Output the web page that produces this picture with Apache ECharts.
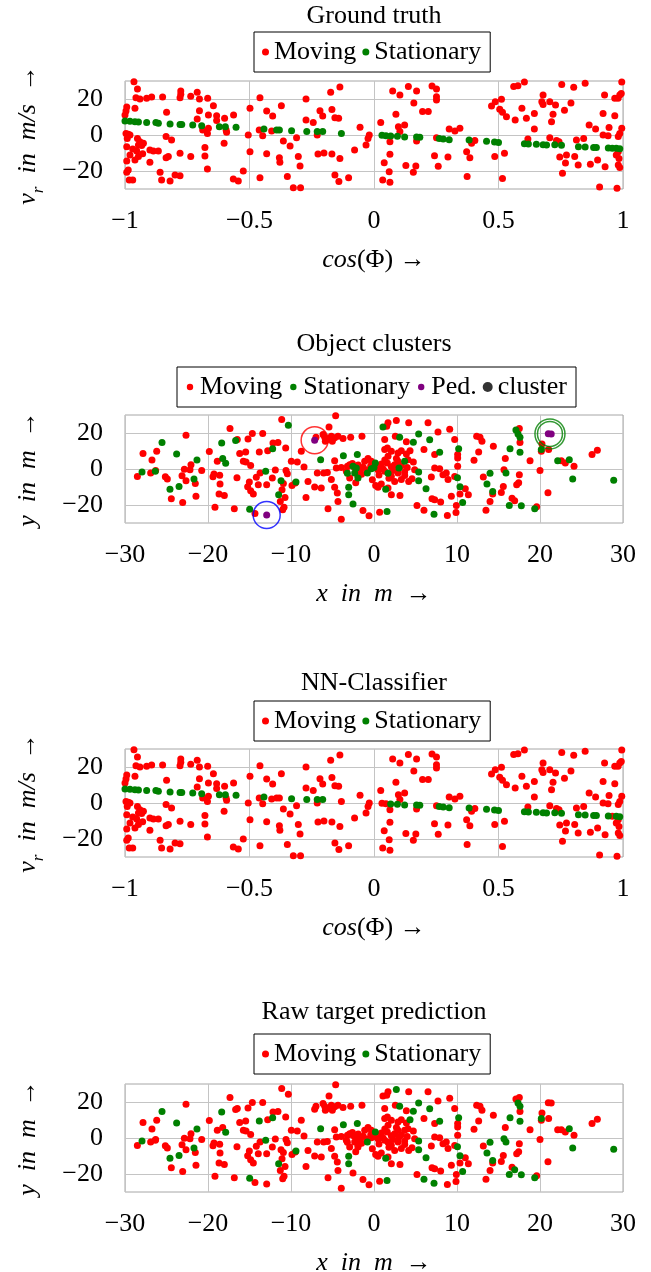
<!DOCTYPE html>
<html>
<head>
<meta charset="utf-8">
<title>Radar targets</title>
<script src="https://cdn.jsdelivr.net/npm/echarts@6.0.0/dist/echarts.min.js"></script>
<style>
  html, body { margin: 0; padding: 0; background: #fff; }
  #chart { width: 651px; height: 1272px; }
</style>
</head>
<body>
<div id="chart"></div>
<script>
// ---- data: plots 1 and 3, cos(phi) vs radial velocity ----
var cosTicks = [-1, -0.5, 0, 0.5, 1];
var meterTicks = [-30, -20, -10, 0, 10, 20, 30];
var yTicks = [-20, 0, 20];

var gtMoving = [
  [-0.964,29.6],[-0.950,25.6],[-0.956,20.7],[-0.940,20.0],[-0.913,20.4],[-0.893,21.1],[-0.849,21.1],[-0.776,24.4],
  [-0.776,22.6],[-0.779,20.7],[-0.736,21.5],[-0.710,23.7],[-0.701,20.0],[-0.668,20.4],[-0.645,16.3],[-0.701,13.5],
  [-0.665,11.1],[-0.632,10.7],[-0.632,8.1],[-0.600,9.3],[-0.564,11.1],[-0.833,12.6],[-0.710,8.9],[-0.993,15.6],
  [-0.996,13.3],[-1.0,11.1],[-0.960,14.8],[-0.996,0.9],[-0.987,0.4],[-0.980,0],[-0.991,-1.9],[-0.950,-1.9],
  [-0.940,-3.7],[-0.926,-4.6],[-0.946,-5.6],[-0.933,-5.9],[-0.993,-6.5],[-0.969,-7.8],[-0.953,-8.9],[-0.929,-10.4],
  [-0.980,-11.1],[-0.993,-14.4],[-0.960,-13.9],[-0.946,-12.0],[-0.900,-8.3],[-0.886,-8.9],[-0.866,-8.9],[-0.900,-15.2],
  [-0.987,-19.4],[-0.993,-20.7],[-0.983,-25.0],[-0.969,-25.0],[-0.859,-20.7],[-0.853,-25.0],[-0.819,-25.6],[-0.799,-22.2],
  [-0.779,-22.6],[-0.835,-0.9],[-0.813,-2.8],[-0.826,-12.0],[-0.835,-12.6],[-0.779,-10.2],[-0.736,-12.0],[-0.679,-7.0],
  [-0.679,-11.7],[-0.669,-18.9],[-0.688,2.8],[-0.669,0.9],[-0.665,3.7],[-0.602,-4.6],[-0.592,1.5],[-0.594,2.8],
  [-0.565,-24.4],[-0.545,-25.6],[-0.525,-20.0],[-0.505,0],[-0.498,14.8],[-0.458,20.7],[-0.461,2.8],[-0.447,-0.4],
  [-0.431,13.3],[-0.407,10.6],[-0.372,16.3],[-0.411,2.2],[-0.498,-9.3],[-0.431,-10.4],[-0.380,-12.6],[-0.378,-15.2],
  [-0.364,-3.3],[-0.337,-6.1],[-0.311,-1.5],[-0.304,-11.9],[-0.297,-17.2],[-0.348,-23.1],[-0.324,-29.3],[-0.295,-29.3],
  [-0.273,20.0],[-0.273,8.3],[-0.244,6.9],[-0.217,13.5],[-0.206,10.6],[-0.174,23.7],[-0.137,26.7],[-0.169,14.1],
  [-0.157,9.6],[-0.142,9.3],[-0.228,0],[-0.225,-10.6],[-0.201,-10.0],[-0.169,-10.6],[-0.137,-13.0],[-0.157,-22.2],
  [-0.141,-25.9],[-0.102,-23.7],[-0.078,-8.3],[-0.056,4.3],[-0.032,-5.6],[-0.024,-1.9],[-0.019,0],[-0.458,-23.7],
  [0.075,24.4],[0.104,22.2],[0.138,26.9],[0.171,24.4],[0.233,27.2],[0.251,25.6],[0.160,17.8],[0.195,13.0],
  [0.218,13.0],[0.251,21.3],[0.251,19.4],[0.088,11.5],[0.027,7.0],[0.098,4.6],[0.104,1.9],[0.123,5.6],
  [0.302,3.3],[0.325,2.2],[0.345,3.7],[0.251,-1.5],[0.064,-3.7],[0.171,-3.3],[0.064,-10.7],[0.041,-15.4],
  [0.061,-20.4],[0.035,-25.0],[0.064,-26.3],[0.128,-17.0],[0.168,-17.2],[0.158,-20.7],[0.243,-11.5],[0.258,-17.4],
  [0.297,-12.2],[0.372,-9.3],[0.385,-12.6],[0.392,-4.6],[0.405,-3.1],[0.374,-23.1],[0.485,-11.9],[0.516,-24.1],
  [0.524,-10.2],[0.472,16.1],[0.487,18.5],[0.512,19.8],[0.505,14.3],[0.516,12.6],[0.532,10.2],[0.567,8.3],
  [0.561,26.9],[0.578,27.4],[0.604,29.4],[0.594,14.8],[0.612,9.3],[0.644,12.0],[0.644,3.3],[0.679,22.2],
  [0.674,18.5],[0.679,17.0],[0.706,18.5],[0.729,16.7],[0.765,13.7],[0.791,17.8],[0.754,28.1],[0.802,26.5],
  [0.848,28.7],[0.719,11.5],[0.713,7.4],[0.618,-2.2],[0.706,-1.5],[0.733,-3.0],[0.743,-3.7],[0.813,-2.8],
  [0.842,-1.9],[0.864,5.6],[0.890,3.3],[0.944,4.1],[0.920,0],[0.940,-0.4],[0.967,10.7],[0.995,29.5],
  [0.980,20.4],[0.967,20.4],[0.926,22.2],[0.920,12.0],[0.987,22.2],[0.993,23.1],[0.746,-12.2],[0.773,-11.1],
  [0.769,-15.6],[0.757,-21.3],[0.806,-12.0],[0.820,-16.7],[0.869,-16.3],[0.898,-13.9],[0.906,-28.9],[0.928,-17.6],
  [0.976,-29.6],[0.981,-9.3],[0.981,-16.7],[0.987,-18.1],[0.984,-13.0],[0.973,-11.1],[0.995,3.7],[0.987,0.9],
  [0.981,-0.9]
];
// stationary in ground truth, also stationary for the NN
var gtStationaryKept = [
  [-1.0,7.8],[-0.980,7.6],[-0.960,7.4],[-0.946,7.2],[-0.913,7.0],[-0.876,6.9],[-0.866,6.5],[-0.819,6.1],
  [-0.779,5.9],[-0.772,5.9],[-0.728,5.6],[-0.692,5.2],[-0.621,4.6],[-0.597,4.6],[-0.554,4.3],[-0.442,3.3],
  [-0.331,2.4],[-0.270,2.0],[-0.228,1.9],[-0.206,1.9],[0.067,-0.6],[0.094,-0.7],[0.123,-1.1],[0.171,-1.1],
  [0.184,-1.3],[0.262,-2.0],[0.278,-2.2],[0.302,-2.6],[0.382,-2.8],[0.452,-3.5],[0.484,-3.9],[0.500,-4.1],
  [0.604,-4.8],[0.620,-5.0],[0.652,-5.2],[0.679,-5.4],[0.693,-5.6],[0.726,-5.4],[0.753,-5.7],[0.821,-6.5],
  [0.848,-6.7],[0.882,-6.9],[0.893,-7.0],[0.941,-7.2],[0.973,-7.4],[0.987,-7.6]
];
// stationary in ground truth, called moving by the NN
var gtStationaryNnMoving = [
  [-0.391,2.8],[-0.380,2.8],[-0.131,0.9],[0.032,-0.2],[0.048,-0.4],[0.957,-7.4]
];

// ---- data: plots 2 and 4, x/y positions in m ----
// moving in both views
var posMovingBoth = [
  [-11.12,27.5],[-17.35,22.5],[-16.47,16.4],[-15.18,16.7],[-14.66,19.7],[-13.41,19.7],[-22.65,18.8],[-12.17,14.5],
  [-11.57,14.7],[-10.64,11.7],[-19.84,9.7],[-18.88,4.3],[-16.18,8.6],[-15.46,9.5],[-15.74,4.3],[-15.42,3.9],
  [-14.86,2.0],[-12.81,10.2],[-27.83,8.6],[-26.18,9.9],[-26.75,5.0],[-22.05,2.4],[-22.85,-0.2],[-22.17,-0.4],
  [-20.76,-0.9],[-23.13,-3.7],[-22.65,-6.5],[-21.53,-8.0],[-25.14,-4.3],[-24.90,-5.6],[-26.91,-2.2],[-26.31,-0.9],
  [-28.51,-4.1],[-21.45,-15.1],[-24.42,-16.5],[-23.05,-18.6],[-19.28,-2.8],[-19.40,-4.3],[-18.59,-3.5],[-18.55,-8.4],
  [-18.67,-13.9],[-18.03,-14.7],[-19.16,-21.2],[-16.83,-22.1],[-14.34,-24.7],[-16.51,-4.8],[-11.89,-0.6],[-10.60,-0.9],
  [-10.44,-2.6],[-14.18,-4.6],[-13.73,-2.2],[-12.25,-5.0],[-15.02,-7.2],[-15.22,-9.9],[-14.86,-12.1],[-14.54,-13.9],
  [-13.94,-8.7],[-12.93,-8.7],[-10.92,-8.0],[-11.08,-11.5],[-10.72,-15.8],[-11.29,-18.0],[-10.84,-21.2],[-11.00,-22.7],
  [-4.62,29.6],[-5.42,23.4],[-6.14,19.1],[-5.94,17.7],[-5.62,16.4],[-5.14,18.2],[-4.74,17.3],[-4.34,18.2],
  [-3.73,16.9],[-2.81,17.7],[-1.45,18.2],[-5.02,15.4],[-5.86,15.4],[-6.99,17.7],[-8.76,9.9],[-8.43,1.1],
  [-9.24,3.9],[-9.48,-7.8],[-7.95,-6.9],[-7.15,-10.0],[-6.35,-10.6],[-6.83,-2.2],[-6.06,-2.2],[-5.62,-1.9],
  [-5.14,-5.9],[-4.74,-10.2],[-4.42,-13.4],[-4.34,-18.0],[-5.54,-22.1],[-3.94,-27.9],[-1.33,-23.0],[-0.60,-26.0],
  [0.68,-24.0],[-8.19,-15.8],[-4.74,4.6],[-4.54,0.6],[-3.94,0.9],[-2.93,2.4],[-2.33,0.9],[-3.33,-1.3],
  [-2.93,-5.0],[-1.93,-4.1],[-1.73,-1.3],[-1.12,4.3],[-0.72,5.8],[-0.32,4.3],[0.48,-0.4],[1.08,0.2],
  [1.29,-1.3],[2.09,1.3],[2.49,2.4],[2.89,4.3],[1.69,7.1],[1.29,10.8],[1.61,11.7],[2.09,9.9],
  [2.89,8.9],[3.29,10.2],[3.90,8.4],[4.10,5.2],[4.74,3.9],[4.90,-0.4],[3.69,-1.7],[2.89,-2.2],
  [2.09,-4.1],[2.49,-6.9],[3.29,-5.9],[4.18,-6.9],[4.58,-5.4],[0.20,-9.1],[0.48,-10.2],[0.88,-8.4],
  [1.69,-10.6],[2.09,-14.3],[3.13,-14.7],[1.69,25.7],[1.53,23.8],[4.18,25.7],[1.29,16.4],[2.57,18.2],
  [3.90,15.1],[6.51,25.7],[7.71,20.6],[9.12,22.1],[9.72,16.4],[7.31,8.0],[6.02,10.8],[7.31,0.6],
  [7.91,0.2],[8.31,-3.2],[8.71,-2.2],[8.92,-5.9],[9.72,-4.1],[6.91,-4.5],[6.99,-16.5],[7.31,-17.1],
  [8.03,-18.4],[9.32,-15.2],[9.92,-20.3],[8.84,-25.8],[5.18,-20.3],[-9.88,-9.1],[-9.96,4.3],
  [-3.2,1.5],[-2.6,3.0],[-1.9,2.2],[-1.3,1.0],[-0.9,-0.5],[-0.4,1.6],[0.3,1.9],[0.9,2.8],
  [1.6,3.4],[2.3,-0.8],[3.3,1.8],[4.0,0.9],[-1.5,-2.9],[0.6,-3.3],[1.8,-5.2],[3.7,-3.6],
  [-0.2,-6.0],[2.7,5.8],[-2.2,-7.6],[1.3,5.0],
  [10.08,8.0],[10.08,6.1],[10.08,1.5],[12.37,18.2],[12.77,17.7],[13.01,15.4],[14.38,12.6],[12.61,9.5],
  [12.05,4.8],[15.82,5.8],[17.51,22.5],[17.59,14.7],[18.80,4.6],[20.0,-0.9],[20.24,13.9],[20.16,9.9],
  [21.04,10.8],[22.57,4.6],[23.05,3.3],[24.1,1.5],[26.27,8.0],[26.91,10.4],[20.96,-13.2],[13.17,-4.5],
  [11.0,-11.0],[11.37,-14.3],[10.36,-13.9],[17.51,-3.2],[17.43,-7.6],[17.19,-8.7],[15.58,-9.7],[15.34,-13.0],
  [14.30,-13.9],[13.98,-18.0],[13.49,-22.9],[16.63,-16.2],[19.6,-21.0],[9.88,-24.2]
];
// stationary in both views
var posStationaryBoth = [
  [-25.54,14.7],[-23.78,8.4],[-21.33,5.0],[-21.69,-5.6],[-27.95,-1.7],[-24.58,-11.3],[-23.49,-9.7],[-18.35,14.5],
  [-17.87,3.2],[-14.98,-22.3],[-12.21,11.2],[-13.05,-1.3],[-11.49,-14.3],[3.09,17.7],[4.74,14.9],[5.38,19.5],
  [6.71,16.2],[7.91,9.3],[-6.43,5.2],[-3.69,7.4],[-2.01,8.0],[-3.05,-10.2],[-3.05,-14.3],[-0.80,-2.2],
  [0.16,3.3],[5.38,-1.7],[5.38,-6.5],[6.27,-11.0],[1.41,-11.2],[1.57,-23.6],[7.23,-25.1],[-9.40,-7.2],
  [10.06,-4.8],[10.2,11.3],[10.36,-9.9],[10.68,-18.6],[13.98,-2.4],[13.61,-8.4],[14.30,-12.5],[15.9,-2.2],
  [16.39,11.3],[17.59,9.3],[17.35,19.5],[17.59,17.7],[16.3,-20.3],[17.75,-20.4],[19.36,-22.1],[20.16,10.8],
  [23.53,5.2],[23.94,-5.6],[28.88,-6.3]
];
// stationary in the cluster view, moving in the raw prediction
var posStationaryToMoving = [
  [-18.23,5.8],[-16.67,15.8],[-11.20,-6.5],[-26.35,-1.3],[-10.32,24.3],[1.08,23.4],[-2.53,1.5],[-2.13,0.6],
  [-2.33,-2.2],[-1.93,-5.0],[-3.21,-2.4],[-2.53,-19.5],[0,0.9],[-0.32,0.2],[1.69,-2.4],[3.01,0.6],
  [3.69,4.3],[22.13,4.6],[17.1,21.7]
];
// moving in the cluster view, stationary in the raw prediction
var posMovingToStationary = [
  [-13.82,9.5],[2.69,27.0],[4.34,10.2],[6.02,-22.9],[15.66,-0.4],[16.95,-17.7]
];
// pedestrians (moving in the raw prediction)
var pedPoints = [[-7.15,16.0],[-12.93,-25.5],[21.0,19.6],[21.35,19.4]];
var clusterCenters = [[-7.15,16.0],[-12.93,-25.5],[21.2,19.5],[21.2,19.5]];

// ---- styles ----
var FONT = '"Liberation Serif", "DejaVu Serif", serif';
var GRID_COLOR = '#c4c4c4';
var BORDER_COLOR = '#a6a6a6';
var RED = '#ff0000', GREEN = '#008000', PURPLE = '#800080';
var clusterRingColors = ['#ff0000', '#0000ff', '#008000', '#008000'];
var clusterRingSizes = [27, 27, 25, 30];
var gridTops = [81, 415, 749, 1084];
var titleTops = [3, 331, 670, 999];
var legendTops = [32, 367, 701, 1034];
// small dot inside a 10x10 box, so it sits next to the bigger cluster dot
var smallDot = 'path://M0,0M10,10M1.8,5A3.2,3.2,0,1,1,8.2,5A3.2,3.2,0,1,1,1.8,5Z';

function minus(v) { return String(v).replace('-', '\u2212'); }

var nameRich = {
  i: { fontFamily: FONT, fontSize: 26, fontStyle: 'italic', color: '#000' },
  s: { fontFamily: FONT, fontSize: 17, fontStyle: 'italic', color: '#000', verticalAlign: 'bottom', padding: [0, 0, -6, 0] },
  n: { fontFamily: FONT, fontSize: 26, color: '#000' }
};

function xAxisFor(gi, ticks, name) {
  return {
    gridIndex: gi, type: 'value',
    min: ticks[0], max: ticks[ticks.length - 1], interval: ticks[1] - ticks[0],
    axisLine: { show: false },
    axisTick: { show: true, length: 11, lineStyle: { color: GRID_COLOR } },
    splitLine: { show: true, lineStyle: { color: GRID_COLOR, width: 1 } },
    axisLabel: { fontFamily: FONT, fontSize: 26, color: '#000', margin: 19, formatter: minus },
    name: name, nameLocation: 'middle', nameGap: 58,
    nameTextStyle: { rich: nameRich }
  };
}
function yAxisFor(gi, name) {
  return {
    gridIndex: gi, type: 'value', min: -30, max: 30, interval: 10,
    axisLine: { show: false },
    axisTick: { show: true, length: 12, customValues: yTicks, lineStyle: { color: GRID_COLOR } },
    splitLine: { show: true, lineStyle: { color: GRID_COLOR, width: 1 } },
    axisLabel: { fontFamily: FONT, fontSize: 26, color: '#000', margin: 22, customValues: yTicks, formatter: minus },
    name: name, nameLocation: 'middle', nameGap: 84,
    nameTextStyle: { rich: nameRich }
  };
}
function dots(name, data, color, idx) {
  return {
    type: 'scatter', name: name, data: data, xAxisIndex: idx, yAxisIndex: idx,
    symbol: 'circle', symbolSize: 7, itemStyle: { color: color, opacity: 1 },
    silent: true, animation: false
  };
}
function legendFor(idx, left, items, box) {
  return {
    top: legendTops[idx], left: left, orient: 'horizontal',
    data: items, icon: 'circle', itemWidth: box, itemHeight: box, itemGap: 6,
    borderColor: '#000', borderWidth: 1, borderRadius: 0, padding: [7, 9, 7, 8],
    textStyle: { fontFamily: FONT, fontSize: 26, color: '#000' },
    selectedMode: false
  };
}

var vName = '{i|v}{s|r}{i|  in  m/s  }{n|\u2192}';
var cosName = '{i|cos}{n|(\u03A6) \u2192}';
var xmName = '{i|x  in  m}{n|  \u2192}';
var ymName = '{i|y  in  m}{n|  \u2192}';

var chart = echarts.init(document.getElementById('chart'));
chart.setOption({
  backgroundColor: '#fff',
  animation: false,
  title: ['Ground truth', 'Object clusters', 'NN-Classifier', 'Raw target prediction'].map(function (t, i) {
    return { text: t, left: 374, top: titleTops[i], textAlign: 'center', padding: 0,
      textStyle: { fontFamily: FONT, fontSize: 26, fontWeight: 'normal', color: '#000' } };
  }),
  legend: [
    legendFor(0, 254, ['Moving', 'Stationary'], 7),
    legendFor(1, 177, [
      { name: 'Moving', icon: smallDot }, { name: 'Stationary', icon: smallDot }, { name: 'Ped.', icon: smallDot },
      { name: 'cluster', icon: 'circle', itemStyle: { color: '#000', borderWidth: 0 } }
    ], 10),
    legendFor(2, 254, ['Moving', 'Stationary'], 7),
    legendFor(3, 254, ['Moving', 'Stationary'], 7)
  ],
  grid: gridTops.map(function (t) {
    return { left: 125, width: 498, top: t, height: 108, show: true, borderColor: BORDER_COLOR, borderWidth: 1,
      containLabel: false, outerBoundsMode: 'none' };
  }),
  xAxis: [
    xAxisFor(0, cosTicks, cosName), xAxisFor(1, meterTicks, xmName),
    xAxisFor(2, cosTicks, cosName), xAxisFor(3, meterTicks, xmName)
  ],
  yAxis: [yAxisFor(0, vName), yAxisFor(1, ymName), yAxisFor(2, vName), yAxisFor(3, ymName)],
  series: [
    // Ground truth
    dots('Moving', gtMoving, RED, 0),
    dots('Stationary', gtStationaryKept.concat(gtStationaryNnMoving), GREEN, 0),
    // Object clusters
    dots('Moving', posMovingBoth.concat(posMovingToStationary), RED, 1),
    dots('Stationary', posStationaryBoth.concat(posStationaryToMoving), GREEN, 1),
    dots('Ped.', pedPoints, PURPLE, 1),
    {
      type: 'scatter', name: 'cluster', xAxisIndex: 1, yAxisIndex: 1, silent: true, animation: false,
      symbol: 'circle',
      symbolSize: function (v, p) { return clusterRingSizes[p.dataIndex]; },
      data: clusterCenters.map(function (c, i) {
        return { value: c, itemStyle: { color: 'rgba(0,0,0,0)', borderColor: clusterRingColors[i], borderWidth: 1.5 } };
      }),
      itemStyle: { color: '#000' }
    },
    // NN classifier
    dots('Moving', gtMoving.concat(gtStationaryNnMoving), RED, 2),
    dots('Stationary', gtStationaryKept, GREEN, 2),
    // Raw target prediction
    dots('Moving', posMovingBoth.concat(posStationaryToMoving, pedPoints), RED, 3),
    dots('Stationary', posStationaryBoth.concat(posMovingToStationary), GREEN, 3)
  ]
});
</script>
</body>
</html>
